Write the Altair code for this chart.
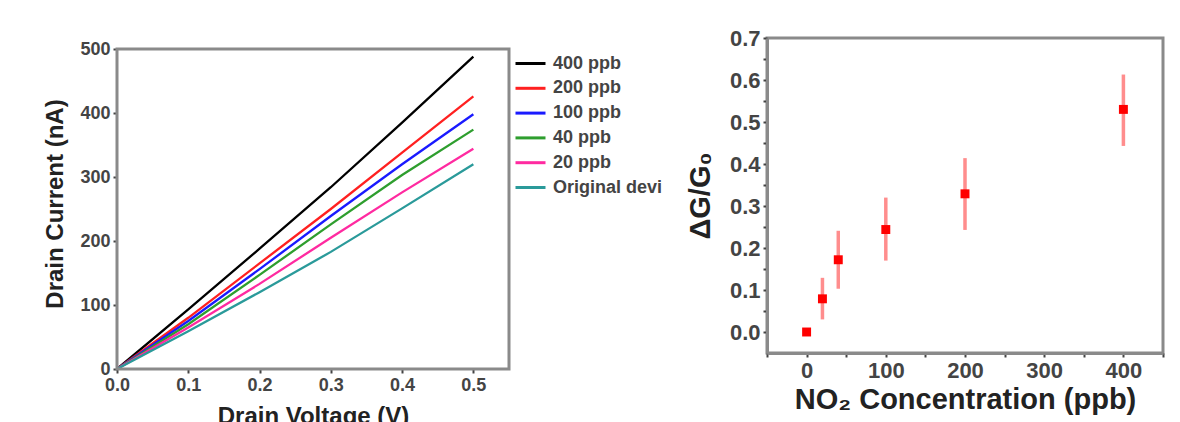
import altair as alt
import pandas as pd

# ---- Left panel: I-V curves ----
voltage = [0.0, 0.1, 0.2, 0.3, 0.4, 0.5]
series_names = ["400 ppb", "200 ppb", "100 ppb", "40 ppb", "20 ppb", "Original device"]
current_400 = [0, 93, 188, 284, 385, 488]
current_200 = [0, 80, 165, 250, 338, 426]
current_100 = [0, 75, 156, 239, 320, 398]
current_40 = [0, 70, 147, 226, 303, 374]
current_20 = [0, 65, 133, 205, 276, 344]
current_orig = [0, 59, 120, 183, 251, 320]
series_colors = ["#000000", "#ff2020", "#1a1aff", "#2e9e2e", "#ff2aa0", "#2a9a9a"]

# axis frame of the left panel (data units)
left_x_range = [0, 0.55]
left_y_range = [0, 500]

# ---- Right panel: response vs concentration ----
conc = [0, 20, 40, 100, 200, 400]
resp = [0.0, 0.079, 0.172, 0.244, 0.329, 0.530]
resp_lo = [0.0, 0.030, 0.103, 0.170, 0.243, 0.443]
resp_hi = [0.0, 0.129, 0.241, 0.320, 0.414, 0.613]

all_currents = [current_400, current_200, current_100, current_40, current_20, current_orig]
rows = []
for name, vals in zip(series_names, all_currents):
    for v, c in zip(voltage, vals):
        rows.append({"V": v, "I": c, "series": name})
iv = pd.DataFrame(rows)

resp_df = pd.DataFrame({"conc": conc, "resp": resp, "lo": resp_lo, "hi": resp_hi})
frame_df = pd.DataFrame({"x1": [left_x_range[0]], "x2": [left_x_range[1]],
                         "y1": [left_y_range[0]], "y2": [left_y_range[1]]})

FONT = "Liberation Sans"
FRAME = "#8a8a8a"

def ax(title, values, label_expr, title_pad, domain=True, label_size=18, title_size=24):
    return alt.Axis(
        title=title, values=values, labelExpr=label_expr, grid=False, domain=domain,
        titleFont=FONT, titleFontSize=title_size, titleFontWeight="bold", titleColor="#222",
        labelFont=FONT, labelFontSize=label_size, labelColor="#444", labelFontWeight="bold",
        domainColor=FRAME, domainWidth=3, tickColor="#444", tickWidth=2, tickSize=4,
        titlePadding=title_pad, labelPadding=3, labelOverlap=False, labelFlush=False,
    )

x_vals = [round(i * 0.05, 2) for i in range(12)]
y_vals = list(range(0, 501, 50))

# left plot extends a little above its frame (frame top at 500)
LEFT_H = 331
LEFT_Y_DOMAIN = [0, left_y_range[1] * LEFT_H / 320]
LX = alt.X("V:Q", scale=alt.Scale(domain=left_x_range, nice=False, zero=False),
           axis=ax("Drain Voltage (V)", x_vals,
                   "abs(datum.value*10 - round(datum.value*10)) < 0.01 ? format(datum.value, '.1f') : ''",
                   10, domain=False))
LY = alt.Y("I:Q", scale=alt.Scale(domain=LEFT_Y_DOMAIN, nice=False),
           axis=ax("Drain Current (nA)", y_vals,
                   "datum.value % 100 == 0 ? datum.label : ''", 12, domain=False))

lines = alt.Chart(iv).mark_line(strokeWidth=2.3).encode(
    x=LX, y=LY,
    color=alt.Color("series:N",
                    scale=alt.Scale(domain=series_names, range=series_colors),
                    sort=series_names,
                    legend=alt.Legend(title=None, orient="right", offset=-4,
                                      symbolType="M-1.25,0H1.25", symbolStrokeWidth=3, symbolSize=576,
                                      labelFont=FONT, labelFontSize=18, labelFontWeight="bold",
                                      labelColor="#444", rowPadding=1.8, labelOffset=9, padding=12,
                                      labelExpr="substring(datum.label, 0, 13)")),
    order="series:N",
)
frame = alt.Chart(frame_df).mark_rect(fill=None, stroke=FRAME, strokeWidth=3).encode(
    x=alt.X("x1:Q", scale=alt.Scale(domain=left_x_range, nice=False, zero=False)),
    x2="x2:Q",
    y=alt.Y("y1:Q", scale=alt.Scale(domain=LEFT_Y_DOMAIN, nice=False)),
    y2="y2:Q",
)
left = alt.layer(lines, frame).properties(
    width=392, height=LEFT_H, view=alt.ViewBackground(strokeOpacity=0))

rx_vals = [-50, 0, 50, 100, 150, 200, 250, 300, 350, 400, 450]
ry_vals = [round(i * 0.05, 2) for i in range(0, 15)]

X_R = alt.X("conc:Q", scale=alt.Scale(domain=[-50, 450], nice=False, zero=False),
            axis=ax("NO₂ Concentration (ppb)", rx_vals,
                    "(datum.value >= 0 && abs(datum.value / 100 - round(datum.value / 100)) < 0.001) ? format(datum.value, 'd') : ''",
                    4, label_size=22, title_size=29))
Y_SCALE = alt.Scale(domain=[-0.05, 0.7], nice=False, zero=False)
Y_AXIS = ax("ΔG/G₀", ry_vals,
            "abs(datum.value*10 - round(datum.value*10)) < 0.01 ? format(datum.value, '.1f') : ''",
            14, label_size=22, title_size=29)

base_r = alt.Chart(resp_df)
err = base_r.mark_rule(strokeWidth=3.5, color="#ff7070", opacity=0.8).encode(
    x=X_R,
    y=alt.Y("lo:Q", scale=Y_SCALE, axis=Y_AXIS),
    y2="hi:Q",
)
pts = base_r.mark_square(size=80, color="#ff0000", opacity=1).encode(
    x=X_R,
    y=alt.Y("resp:Q", scale=Y_SCALE, axis=Y_AXIS),
)
right = alt.layer(err, pts).properties(width=396, height=315)

chart = alt.concat(left, right, columns=2, spacing=9, align="none").properties(
    padding={"left": 43, "top": 25, "right": 5, "bottom": 5},
    background="white",
).resolve_scale(color="independent").resolve_legend(color="independent").configure_view(
    stroke=FRAME, strokeWidth=3)

chart.save("out.html", embed_options={"renderer": "svg", "actions": False})
